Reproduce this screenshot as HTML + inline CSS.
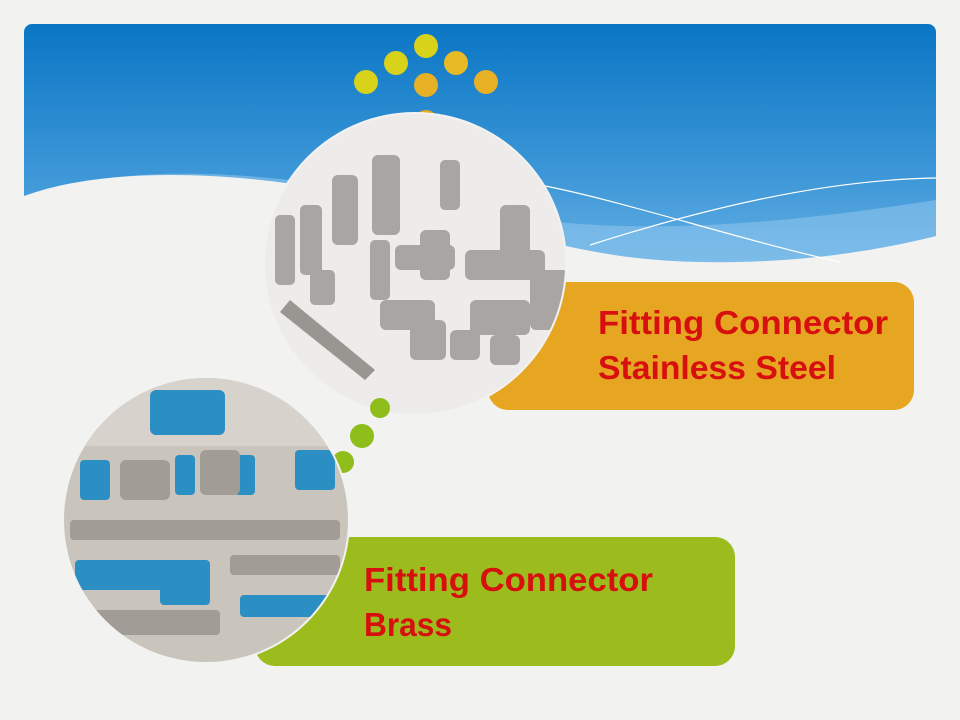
<!DOCTYPE html>
<html><head><meta charset="utf-8"><style>
html,body{margin:0;padding:0;background:#f2f2f1;}
svg{display:block}
text{font-family:"Liberation Sans",sans-serif;font-weight:bold;fill:#d7100f;font-size:33px}
</style></head><body>
<svg width="960" height="720" viewBox="0 0 960 720">
<defs>
<linearGradient id="sky" x1="0" y1="0" x2="0" y2="1">
<stop offset="0" stop-color="#0a76c4"/><stop offset="0.6" stop-color="#3f98d8"/><stop offset="1" stop-color="#6cb4e6"/>
</linearGradient>
<clipPath id="c1"><circle cx="415" cy="264" r="150"/></clipPath>
<clipPath id="c2"><circle cx="206" cy="520" r="142"/></clipPath>
</defs>
<rect width="960" height="720" fill="#f2f2f1"/>
<rect x="24" y="24" width="912" height="260" rx="8" fill="url(#sky)"/>
<path d="M24 200 C120 160 260 170 420 200 C560 230 680 240 936 200 L936 284 L24 284 Z" fill="#8cc4ec" opacity="0.6"/>
<path d="M24 196 C100 168 220 170 330 190 C480 215 560 260 700 262 C800 264 880 250 936 236 L936 300 L24 300 Z" fill="#f2f2f1"/>
<path d="M540 185 C620 200 740 240 840 262" stroke="#fff" stroke-width="1.2" fill="none"/>
<path d="M590 245 C700 210 820 180 936 178" stroke="#fff" stroke-width="1.2" fill="none"/>
<ellipse cx="426" cy="46" rx="12" ry="12" fill="#d9d21b"/>
<ellipse cx="396" cy="63" rx="12" ry="12" fill="#d9d21b"/>
<ellipse cx="456" cy="63" rx="12" ry="12" fill="#e8bb24"/>
<ellipse cx="366" cy="82" rx="12" ry="12" fill="#d9d21b"/>
<ellipse cx="426" cy="85" rx="12" ry="12" fill="#e8b024"/>
<ellipse cx="486" cy="82" rx="12" ry="12" fill="#e8b024"/>
<ellipse cx="426" cy="122" rx="12" ry="12" fill="#e8a823"/>
<rect x="488" y="282" width="426" height="128" rx="20" fill="#e6a622"/>
<text x="598" y="334" textLength="290" lengthAdjust="spacingAndGlyphs">Fitting Connector</text>
<text x="598" y="379" textLength="238" lengthAdjust="spacingAndGlyphs">Stainless Steel</text>
<circle cx="415" cy="264" r="152" fill="#f2f2f1"/>
<g clip-path="url(#c1)">
<rect x="260" y="110" width="320" height="310" fill="#eeeceb"/>
<g fill="#a9a5a2">
<rect x="332" y="175" width="26" height="70" rx="6"/>
<rect x="372" y="155" width="28" height="80" rx="6"/>
<rect x="440" y="160" width="20" height="50" rx="5"/>
<rect x="300" y="205" width="22" height="70" rx="5"/>
<rect x="275" y="215" width="20" height="70" rx="5"/>
<rect x="500" y="205" width="30" height="60" rx="6"/>
<rect x="420" y="230" width="30" height="50" rx="6"/>
<rect x="395" y="245" width="60" height="25" rx="6"/>
<rect x="465" y="250" width="80" height="30" rx="6"/>
<rect x="370" y="240" width="20" height="60" rx="5"/>
<rect x="310" y="270" width="25" height="35" rx="5"/>
<rect x="380" y="300" width="55" height="30" rx="6"/>
<rect x="470" y="300" width="60" height="35" rx="6"/>
<rect x="410" y="320" width="36" height="40" rx="6"/>
<rect x="450" y="330" width="30" height="30" rx="6"/>
<rect x="490" y="335" width="30" height="30" rx="6"/>
<rect x="530" y="270" width="40" height="60" rx="6"/>
</g>
<path d="M290 300 L375 370 L365 380 L280 312 Z" fill="#999590"/>
</g>
<circle cx="380" cy="408" r="10" fill="#8fbd1c"/>
<circle cx="362" cy="436" r="12" fill="#8fbd1c"/>
<circle cx="343" cy="462" r="11" fill="#8fbd1c"/>
<rect x="255" y="537" width="480" height="129" rx="20" fill="#9cbc1e"/>
<text x="364" y="591" textLength="289" lengthAdjust="spacingAndGlyphs">Fitting Connector</text>
<text x="364" y="636" textLength="88" lengthAdjust="spacingAndGlyphs">Brass</text>
<circle cx="206" cy="520" r="144" fill="#f2f2f1"/>
<g clip-path="url(#c2)">
<rect x="60" y="376" width="300" height="290" fill="#c9c4bc"/>
<rect x="60" y="376" width="300" height="70" fill="#d7d3cc"/>
<g fill="#2c8fc4">
<rect x="150" y="390" width="75" height="45" rx="6"/>
<rect x="235" y="455" width="20" height="40" rx="4"/>
<rect x="175" y="455" width="20" height="40" rx="4"/>
<rect x="295" y="450" width="40" height="40" rx="4"/>
<rect x="75" y="560" width="100" height="30" rx="4"/>
<rect x="160" y="560" width="50" height="45" rx="4"/>
<rect x="240" y="595" width="90" height="22" rx="4"/>
<rect x="80" y="460" width="30" height="40" rx="4"/>
</g>
<g fill="#a19d96">
<rect x="120" y="460" width="50" height="40" rx="6"/>
<rect x="200" y="450" width="40" height="45" rx="6"/>
<rect x="70" y="520" width="270" height="20" rx="4"/>
<rect x="230" y="555" width="110" height="20" rx="4"/>
<rect x="90" y="610" width="130" height="25" rx="4"/>
</g>
</g>
</svg>
</body></html>
